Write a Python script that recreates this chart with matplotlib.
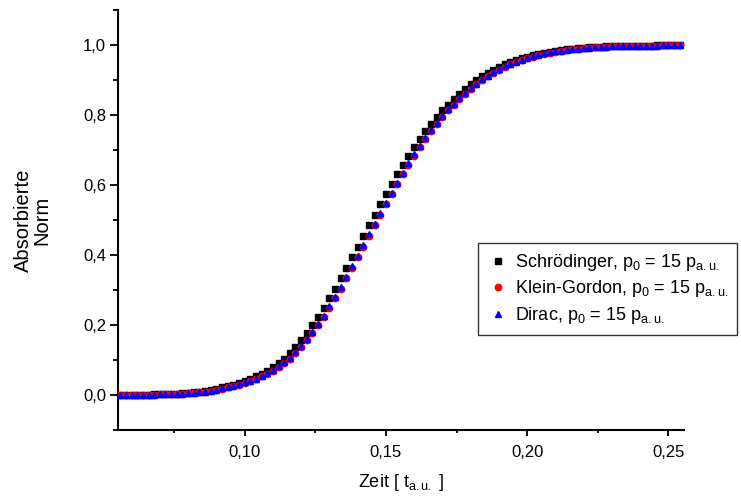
import matplotlib
matplotlib.use("Agg")
import matplotlib.pyplot as plt
from matplotlib.ticker import MultipleLocator, FixedLocator, FixedFormatter

plt.rcParams['font.family'] = ['Liberation Sans', 'DejaVu Sans']
plt.rcParams['mathtext.fontset'] = 'custom'
plt.rcParams['mathtext.rm'] = 'Liberation Sans'
plt.rcParams['mathtext.it'] = 'Liberation Sans'

# time in atomic units
t = [0.056, 0.058, 0.060, 0.062, 0.064, 0.066, 0.068, 0.070, 0.072, 0.074,
     0.076, 0.078, 0.080, 0.082, 0.084, 0.086, 0.088, 0.090, 0.092, 0.094,
     0.096, 0.098, 0.100, 0.102, 0.104, 0.106, 0.108, 0.110, 0.112, 0.114,
     0.116, 0.118, 0.120, 0.122, 0.124, 0.126, 0.128, 0.130, 0.132, 0.134,
     0.136, 0.138, 0.140, 0.142, 0.144, 0.146, 0.148, 0.150, 0.152, 0.154,
     0.156, 0.158, 0.160, 0.162, 0.164, 0.166, 0.168, 0.170, 0.172, 0.174,
     0.176, 0.178, 0.180, 0.182, 0.184, 0.186, 0.188, 0.190, 0.192, 0.194,
     0.196, 0.198, 0.200, 0.202, 0.204, 0.206, 0.208, 0.210, 0.212, 0.214,
     0.216, 0.218, 0.220, 0.222, 0.224, 0.226, 0.228, 0.230, 0.232, 0.234,
     0.236, 0.238, 0.240, 0.242, 0.244, 0.246, 0.248, 0.250, 0.252, 0.254]

schroedinger = [0.000, 0.000, 0.000, 0.001, 0.001, 0.001, 0.002, 0.002, 0.003, 0.003,
                0.004, 0.005, 0.006, 0.008, 0.010, 0.012, 0.015, 0.018, 0.022, 0.026,
                0.030, 0.035, 0.040, 0.046, 0.053, 0.061, 0.070, 0.080, 0.091, 0.104,
                0.119, 0.136, 0.156, 0.177, 0.199, 0.223, 0.249, 0.276, 0.304, 0.333,
                0.363, 0.393, 0.424, 0.455, 0.485, 0.515, 0.545, 0.574, 0.603, 0.631,
                0.658, 0.684, 0.709, 0.732, 0.754, 0.775, 0.795, 0.813, 0.830, 0.846,
                0.861, 0.875, 0.888, 0.900, 0.911, 0.921, 0.930, 0.938, 0.945, 0.951,
                0.957, 0.962, 0.967, 0.971, 0.975, 0.978, 0.981, 0.984, 0.986, 0.988,
                0.990, 0.991, 0.992, 0.993, 0.994, 0.995, 0.996, 0.996, 0.997, 0.997,
                0.997, 0.998, 0.998, 0.998, 0.998, 0.999, 0.999, 0.999, 0.999, 0.999]

klein_gordon = [0.000, 0.000, 0.000, 0.000, 0.001, 0.001, 0.001, 0.002, 0.002, 0.003,
                0.003, 0.004, 0.005, 0.006, 0.008, 0.010, 0.012, 0.015, 0.018, 0.022,
                0.026, 0.030, 0.035, 0.040, 0.046, 0.053, 0.061, 0.070, 0.080, 0.091,
                0.104, 0.119, 0.136, 0.156, 0.177, 0.199, 0.223, 0.249, 0.276, 0.304,
                0.333, 0.363, 0.393, 0.424, 0.455, 0.485, 0.515, 0.545, 0.574, 0.603,
                0.631, 0.658, 0.684, 0.709, 0.732, 0.754, 0.775, 0.795, 0.813, 0.830,
                0.846, 0.861, 0.875, 0.888, 0.900, 0.911, 0.921, 0.930, 0.938, 0.945,
                0.951, 0.957, 0.962, 0.967, 0.971, 0.975, 0.978, 0.981, 0.984, 0.986,
                0.988, 0.990, 0.991, 0.992, 0.993, 0.994, 0.995, 0.996, 0.996, 0.997,
                0.997, 0.997, 0.998, 0.998, 0.998, 0.998, 0.999, 0.999, 0.999, 0.999]

dirac = [0.000, 0.000, 0.000, 0.000, 0.001, 0.001, 0.001, 0.002, 0.002, 0.003,
         0.003, 0.004, 0.005, 0.006, 0.008, 0.010, 0.012, 0.015, 0.019, 0.023,
         0.027, 0.031, 0.036, 0.041, 0.047, 0.054, 0.062, 0.072, 0.082, 0.093,
         0.106, 0.122, 0.139, 0.159, 0.180, 0.203, 0.227, 0.253, 0.280, 0.308,
         0.337, 0.368, 0.398, 0.429, 0.460, 0.490, 0.520, 0.549, 0.578, 0.607,
         0.635, 0.662, 0.688, 0.712, 0.735, 0.757, 0.778, 0.798, 0.816, 0.832,
         0.848, 0.863, 0.877, 0.890, 0.902, 0.912, 0.922, 0.931, 0.939, 0.946,
         0.952, 0.958, 0.963, 0.968, 0.972, 0.976, 0.979, 0.982, 0.984, 0.986,
         0.988, 0.990, 0.991, 0.992, 0.993, 0.994, 0.995, 0.996, 0.996, 0.997,
         0.997, 0.997, 0.998, 0.998, 0.998, 0.998, 0.999, 0.999, 0.999, 0.999]

labels = [r"Schrödinger, p$_0$ = 15 p$_{\mathrm{a.u.}}$",
          r"Klein-Gordon, p$_0$ = 15 p$_{\mathrm{a.u.}}$",
          r"Dirac, p$_0$ = 15 p$_{\mathrm{a.u.}}$"]

xticks = [0.10, 0.15, 0.20, 0.25]
xtick_labels = ["0,10", "0,15", "0,20", "0,25"]
yticks = [0.0, 0.2, 0.4, 0.6, 0.8, 1.0]
ytick_labels = ["0,0", "0,2", "0,4", "0,6", "0,8", "1,0"]

fig = plt.figure(figsize=(7.41, 5.01), dpi=100)
ax = fig.add_axes([118/741, 1 - 430/501, 566/741, 420/501])

ax.plot(t, schroedinger, 's', color='black', markersize=4.3, label=labels[0], zorder=3)
ax.plot(t, klein_gordon, 'o', color='red', markersize=4.6, label=labels[1], zorder=4)
ax.plot(t, dirac, '^', color='blue', markersize=5.0, label=labels[2], zorder=5)

ax.set_xlim(0.0552, 0.2555)
ax.set_ylim(-0.1, 1.1)

ax.xaxis.set_major_locator(FixedLocator(xticks))
ax.xaxis.set_major_formatter(FixedFormatter(xtick_labels))
ax.xaxis.set_minor_locator(MultipleLocator(0.025))
ax.yaxis.set_major_locator(FixedLocator(yticks))
ax.yaxis.set_major_formatter(FixedFormatter(ytick_labels))
ax.yaxis.set_minor_locator(MultipleLocator(0.1))

ax.tick_params(which='both', direction='out', width=1.3, labelsize=12)
ax.tick_params(axis='x', which='major', length=4.5, pad=6)
ax.tick_params(axis='x', which='minor', length=2.5)
ax.tick_params(axis='y', which='major', length=6, pad=2.5)
ax.tick_params(axis='y', which='minor', length=3.5)

for side in ['top', 'right']:
    ax.spines[side].set_visible(False)
for side in ['left', 'bottom']:
    ax.spines[side].set_linewidth(1.5)

ax.set_xlabel(r"Zeit [ t$_{\mathrm{a.u.}}$ ]", fontsize=13)
ax.xaxis.set_label_coords(0.5, -0.1)
ax.set_ylabel("Absorbierte\nNorm", fontsize=14.5, multialignment='center',
              linespacing=0.95)
ax.yaxis.set_label_coords(-0.118, 0.5)

leg = ax.legend(loc='upper left', bbox_to_anchor=(478/741, 1 - 243/501),
                bbox_transform=fig.transFigure, fontsize=13, frameon=True,
                fancybox=False, handlelength=1.2, handletextpad=0.35,
                borderpad=0.5, labelspacing=0.3, borderaxespad=0)
leg.get_frame().set_edgecolor('black')
leg.get_frame().set_linewidth(1.0)

fig.savefig("out.png", dpi=100)
